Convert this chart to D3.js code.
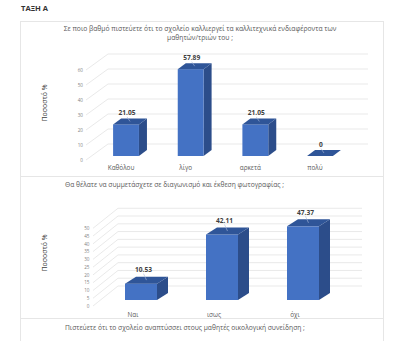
<!DOCTYPE html>
<html>
<head>
<meta charset="utf-8">
<script src="https://cdnjs.cloudflare.com/ajax/libs/d3/7.8.5/d3.min.js"></script>
<style>
  html, body { margin: 0; padding: 0; background: #ffffff; }
  svg { display: block; }
  text { font-family: "Open Sans", "Noto Sans", "DejaVu Sans", sans-serif; }
</style>
</head>
<body>
<script>
// ---------- data ----------
const pageHeading = "ΤΑΞΗ Α";
const yAxisTitle = "Ποσοστό %";

const chart1TitleLines = [
  "Σε ποιο βαθμό πιστεύετε ότι το σχολείο καλλιεργεί τα καλλιτεχνικά ενδιαφέροντα των",
  "μαθητών/τριών του ;"
];
const chart1Categories = ["Καθόλου", "λίγο", "αρκετά", "πολύ"];
const chart1Values = [21.05, 57.89, 21.05, 0];
const chart1Ticks = [0, 10, 20, 30, 40, 50, 60];

const chart2TitleLines = ["Θα θέλατε να συμμετάσχετε σε διαγωνισμό και έκθεση φωτογραφίας ;"];
const chart2Categories = ["Ναι", "ισως", "όχι"];
const chart2Values = [10.53, 42.11, 47.37];
const chart2Ticks = [0, 5, 10, 15, 20, 25, 30, 35, 40, 45, 50];

const chart3TitleLines = ["Πιστεύετε ότι το σχολείο αναπτύσσει στους μαθητές οικολογική συνείδηση ;"];

// ---------- styles ----------
const W = 400, H = 341;
const colFront = "#4472c4";
const colSide = "#2c4d8a";
const colTop = "#2f5598";
const gridCol = "#e3e3e3";
const textCol = "#595959";
const panelBorder = "#e6e6e6";

const svg = d3.select("body").append("svg")
  .attr("width", W).attr("height", H)
  .attr("viewBox", `0 0 ${W} ${H}`);

svg.append("text")
  .attr("x", 21).attr("y", 10.5)
  .attr("font-size", 7.6).attr("font-weight", "bold")
  .attr("fill", "#333333")
  .text(pageHeading);

// panels
const panels = [
  { y0: 21, y1: 176 },
  { y0: 176, y1: 318 },
  { y0: 318, y1: 360 }
];
svg.selectAll("rect.panel").data(panels).join("rect")
  .attr("class", "panel")
  .attr("x", 20.5).attr("y", d => d.y0 + 0.5)
  .attr("width", 363).attr("height", d => d.y1 - d.y0)
  .attr("fill", "#ffffff").attr("stroke", panelBorder).attr("stroke-width", 1);

function drawChart(cfg) {
  const g = svg.append("g");

  // titles
  g.selectAll("text.title").data(cfg.titleLines).join("text")
    .attr("class", "title")
    .attr("x", cfg.titleX)
    .attr("y", (d, i) => cfg.titleY + i * cfg.titleLH)
    .attr("text-anchor", cfg.titleAnchor)
    .attr("font-size", cfg.titleSize)
    .attr("fill", textCol)
    .text(d => d);

  if (!cfg.categories) return;

  const maxV = d3.max(cfg.ticks);
  const x = d3.scaleBand().domain(cfg.categories).range(cfg.xRange).paddingInner(0).paddingOuter(0);
  const yBar = d3.scaleLinear().domain([0, maxV]).range([cfg.barBase, cfg.barBase - cfg.pxPerUnit * maxV]);
  const yFront = d3.scaleLinear().domain([0, maxV]).range([cfg.frontBase, cfg.frontBase - cfg.pxPerUnit * maxV]);
  const yBack = d3.scaleLinear().domain([0, maxV]).range([cfg.backBase, cfg.backBase - cfg.pxPerUnit * maxV]);

  // gridlines: diagonal side wall + back wall
  const grid = g.append("g");
  grid.selectAll("path").data(cfg.ticks).join("path")
    .attr("d", t => d3.line()([
      [cfg.diagX0, yFront(t)],
      [cfg.backX0, yBack(t)],
      [cfg.backX1, yBack(t)]
    ]))
    .attr("fill", "none").attr("stroke", gridCol).attr("stroke-width", 0.8);

  // tick labels
  g.selectAll("text.tick").data(cfg.ticks).join("text")
    .attr("class", "tick")
    .attr("x", cfg.tickX)
    .attr("y", t => yFront(t) + 1.8)
    .attr("text-anchor", "end")
    .attr("font-size", cfg.tickSize)
    .attr("fill", "#7f7f7f")
    .text(t => t);

  // y axis title
  g.append("text")
    .attr("transform", `translate(${cfg.axisTitleX},${cfg.axisTitleY}) rotate(-90)`)
    .attr("text-anchor", "middle")
    .attr("font-size", cfg.axisTitleSize)
    .attr("fill", "#404040")
    .text(yAxisTitle);

  const bw = x.bandwidth() * cfg.barFrac;
  const dx = cfg.depthX, dy = cfg.depthY;
  const data = cfg.categories.map((c, i) => ({ c, v: cfg.values[i] }));

  const bars = g.selectAll("g.bar").data(data).join("g").attr("class", "bar");
  const left = d => x(d.c) + (x.bandwidth() - bw) / 2;

  // side face
  bars.append("path")
    .attr("d", d => {
      const xr = left(d) + bw, yt = yBar(d.v), yb = yBar(0);
      return d3.line()([[xr, yb], [xr, yt], [xr + dx, yt - dy], [xr + dx, yb - dy]]) + "Z";
    })
    .attr("fill", colSide);
  // front face
  bars.append("rect")
    .attr("x", d => left(d))
    .attr("y", d => yBar(d.v))
    .attr("width", bw)
    .attr("height", d => yBar(0) - yBar(d.v))
    .attr("fill", colFront);
  // top face
  bars.append("path")
    .attr("d", d => {
      const xl = left(d), yt = yBar(d.v);
      return d3.line()([[xl, yt], [xl + bw, yt], [xl + bw + dx, yt - dy], [xl + dx, yt - dy]]) + "Z";
    })
    .attr("fill", colTop);

  // leader lines
  bars.append("line")
    .attr("x1", d => left(d) + bw / 2 + dx / 2)
    .attr("y1", d => yBar(d.v) - dy / 2)
    .attr("x2", d => left(d) + bw / 2 + dx / 2 - 3)
    .attr("y2", d => yBar(d.v) - dy / 2 - cfg.labelGap + 1.5)
    .attr("stroke", "#a9bbdc").attr("stroke-width", 0.6);

  // value labels
  bars.append("text")
    .attr("x", d => left(d) + bw / 2 + dx / 2 - 3)
    .attr("y", d => yBar(d.v) - dy / 2 - cfg.labelGap)
    .attr("text-anchor", "middle")
    .attr("font-size", cfg.valueSize)
    .attr("font-weight", "bold")
    .attr("fill", "#404040")
    .text(d => d.v);

  // category labels
  g.selectAll("text.cat").data(cfg.categories).join("text")
    .attr("class", "cat")
    .attr("x", c => x(c) + x.bandwidth() / 2 + cfg.catShift)
    .attr("y", cfg.catY)
    .attr("text-anchor", "middle")
    .attr("font-size", cfg.catSize)
    .attr("fill", textCol)
    .text(c => c);
}

drawChart({
  titleLines: chart1TitleLines, titleX: 200, titleY: 30.5, titleLH: 9, titleAnchor: "middle", titleSize: 6.75,
  categories: chart1Categories, values: chart1Values, ticks: chart1Ticks,
  xRange: [93.7, 352.3], barFrac: 0.4,
  pxPerUnit: 1.5, barBase: 156, frontBase: 160, backBase: 144,
  diagX0: 86, backX0: 108, backX1: 368, tickX: 83, tickSize: 4.6,
  axisTitleX: 47, axisTitleY: 103, axisTitleSize: 7,
  depthX: 8, depthY: 6, labelGap: 6, valueSize: 6.6,
  catShift: -5, catY: 170, catSize: 6.4
});

drawChart({
  titleLines: chart2TitleLines, titleX: 65, titleY: 186.5, titleLH: 9, titleAnchor: "start", titleSize: 6.7,
  categories: chart2Categories, values: chart2Values, ticks: chart2Ticks,
  xRange: [100.5, 343.5], barFrac: 0.395,
  pxPerUnit: 1.555, barBase: 300, frontBase: 306, backBase: 286,
  diagX0: 93, backX0: 118, backX1: 362, tickX: 89.5, tickSize: 4.6,
  axisTitleX: 47, axisTitleY: 253, axisTitleSize: 7,
  depthX: 11, depthY: 7, labelGap: 8, valueSize: 6.6,
  catShift: -8, catY: 317, catSize: 6.4
});

drawChart({
  titleLines: chart3TitleLines, titleX: 65, titleY: 329.5, titleLH: 9, titleAnchor: "start", titleSize: 6.7
});
</script>
</body>
</html>
